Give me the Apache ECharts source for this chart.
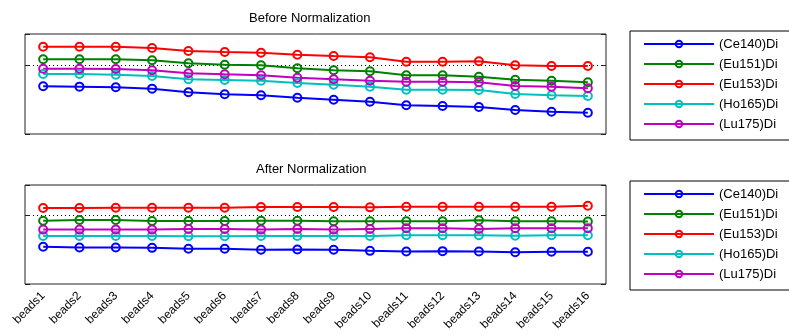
<!DOCTYPE html>
<html><head><meta charset="utf-8">
<script src="https://cdn.jsdelivr.net/npm/echarts@6/dist/echarts.min.js"></script>
<style>html,body{margin:0;padding:0;background:#fff}#c{width:789px;height:335px}</style>
</head><body><div id="c"></div>
<script>
const categories = ['beads1','beads2','beads3','beads4','beads5','beads6','beads7','beads8','beads9','beads10','beads11','beads12','beads13','beads14','beads15','beads16'];
const channels = ['(Ce140)Di','(Eu151)Di','(Eu153)Di','(Ho165)Di','(Lu175)Di'];
const colors = ['#0000ff','#008000','#ff0000','#00bfbf','#bf00bf'];
const titles = ['Before Normalization','After Normalization'];
const yTicks = [1];

// Before normalization (relative intensity)
const beforeCe140 = [0.691,0.686,0.677,0.657,0.604,0.575,0.561,0.526,0.497,0.468,0.416,0.406,0.391,0.348,0.323,0.309];
const beforeEu151 = [1.083,1.083,1.083,1.068,1.025,1.004,0.996,0.952,0.923,0.909,0.851,0.851,0.830,0.787,0.772,0.749];
const beforeEu153 = [1.265,1.265,1.265,1.246,1.203,1.188,1.178,1.149,1.130,1.112,1.048,1.048,1.054,0.996,0.986,0.986];
const beforeHo165 = [0.870,0.870,0.859,0.841,0.793,0.783,0.772,0.739,0.714,0.686,0.642,0.642,0.638,0.580,0.561,0.551];
const beforeLu175 = [0.946,0.946,0.942,0.923,0.880,0.865,0.851,0.816,0.793,0.772,0.758,0.758,0.749,0.696,0.686,0.662];

// After normalization
const afterCe140 = [0.544,0.534,0.534,0.529,0.515,0.515,0.500,0.504,0.500,0.485,0.475,0.481,0.475,0.466,0.471,0.471];
const afterEu151 = [0.927,0.937,0.937,0.923,0.923,0.923,0.927,0.927,0.918,0.918,0.918,0.918,0.933,0.918,0.918,0.913];
const afterEu153 = [1.112,1.112,1.117,1.117,1.117,1.117,1.127,1.127,1.127,1.122,1.131,1.131,1.131,1.131,1.131,1.146];
const afterHo165 = [0.704,0.704,0.704,0.704,0.700,0.700,0.704,0.704,0.704,0.704,0.714,0.714,0.714,0.708,0.714,0.714];
const afterLu175 = [0.796,0.796,0.796,0.796,0.806,0.806,0.796,0.806,0.796,0.806,0.816,0.816,0.806,0.816,0.816,0.816];

const beforeSets = [beforeCe140, beforeEu151, beforeEu153, beforeHo165, beforeLu175];
const afterSets = [afterCe140, afterEu151, afterEu153, afterHo165, afterLu175];

const FONT = 'Liberation Sans, Arial, sans-serif';
const grids = [
  {left: 25, top: 34, width: 581, height: 100},
  {left: 25, top: 185, width: 581, height: 99}
];

function yAxisCfg(gi, pos) {
  return {
    type: 'value', gridIndex: gi, position: pos,
    min: 0, max: 1.449, interval: yTicks[0],
    axisLine: {show: false},
    axisTick: {show: true, inside: true, length: 5, lineStyle: {color: '#222', width: 1}},
    axisLabel: {show: false},
    splitLine: pos === 'left' ? {show: true, showMinLine: false, showMaxLine: false,
      lineStyle: {color: '#000', type: [1, 3], width: 1}} : {show: false}
  };
}
function xAxisCfg(gi, labels) {
  return {
    type: 'category', gridIndex: gi, data: categories, boundaryGap: true,
    axisLine: {show: false}, axisTick: {show: false}, splitLine: {show: false},
    axisLabel: labels ? {show: true, rotate: 45, interval: 0, fontSize: 12, color: '#000', fontFamily: FONT, margin: 10} : {show: false}
  };
}

const series = [];
[beforeSets, afterSets].forEach((sets, gi) => {
  sets.forEach((vals, i) => {
    series.push({
      name: channels[i], type: 'line', xAxisIndex: gi, yAxisIndex: gi * 2,
      data: vals, symbol: 'circle', symbolSize: 8, showSymbol: true,
      color: colors[i],
      lineStyle: {color: colors[i], width: 2},
      itemStyle: {color: 'transparent', borderColor: colors[i], borderWidth: 2},
      emphasis: {disabled: true}, animation: false
    });
  });
});

function legendCfg(top) {
  return {
    orient: 'vertical', left: 630, top: top, data: channels,
    itemWidth: 70, itemHeight: 8, itemGap: 7,
    padding: [6.5, 40, 9.5, 13],
    borderColor: '#000', borderWidth: 1, backgroundColor: '#fff',
    textStyle: {fontSize: 13, lineHeight: 13, color: '#000', fontFamily: FONT},
    selectedMode: false
  };
}

const chart = echarts.init(document.getElementById('c'), null, {renderer: 'canvas'});
chart.setOption({
  animation: false,
  backgroundColor: '#fff',
  title: [
    {text: titles[0], left: 249, top: 12, padding: 0, textStyle: {fontSize: 13, fontWeight: 'normal', color: '#000', fontFamily: FONT}},
    {text: titles[1], left: 256, top: 163, padding: 0, textStyle: {fontSize: 13, fontWeight: 'normal', color: '#000', fontFamily: FONT}}
  ],
  grid: grids.map(g => Object.assign({show: true, borderColor: '#222', borderWidth: 1, backgroundColor: 'transparent', containLabel: false}, g)),
  xAxis: [xAxisCfg(0, false), xAxisCfg(1, true)],
  yAxis: [yAxisCfg(0, 'left'), yAxisCfg(0, 'right'), yAxisCfg(1, 'left'), yAxisCfg(1, 'right')],
  legend: [legendCfg(31), legendCfg(181)],
  series: series
});
</script></body></html>
